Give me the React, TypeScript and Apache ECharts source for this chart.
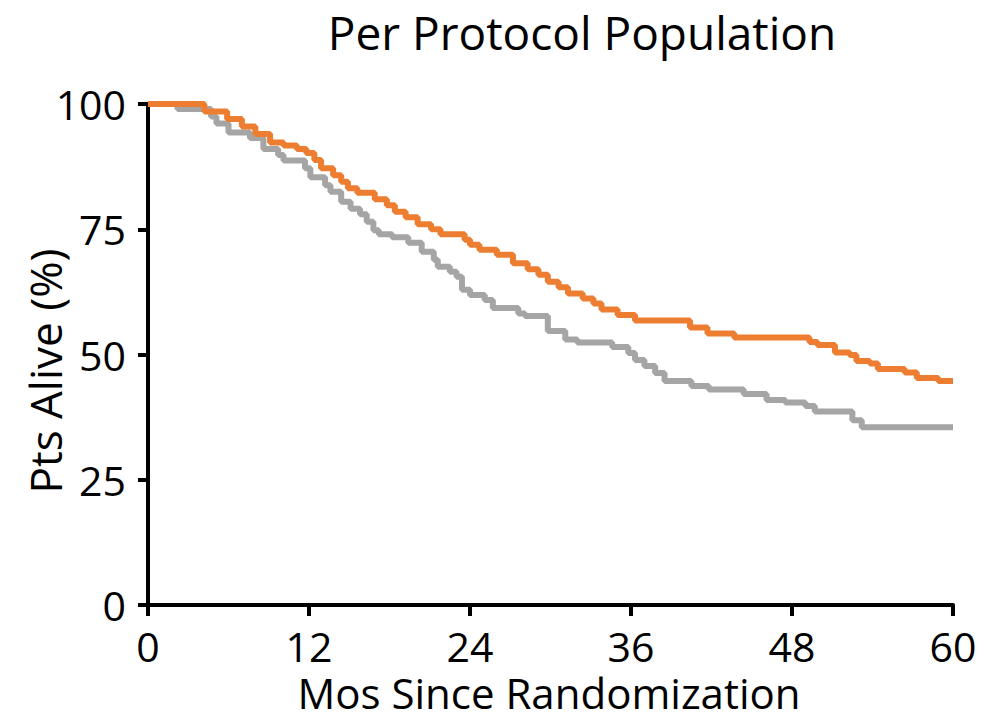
import React, { useEffect, useRef } from "react";
import * as echarts from "echarts";

const titleText = "Per Protocol Population";
const xAxisName = "Mos Since Randomization";
const yAxisName = "Pts Alive (%)";
const xTicks = [0, 12, 24, 36, 48, 60];
const yTicks = [0, 25, 50, 75, 100];

// [month, % alive from this month onward]
const orangeArm: [number, number][] = [
  [0, 100], [4.2, 98.5], [5.9, 97], [7.0, 95.5], [8.0, 94], [9.1, 92.3], [10.1, 91.7],
  [11.1, 91], [11.8, 90.2], [12.4, 88.8], [12.9, 87.2], [13.8, 85.8], [14.4, 84.5],
  [14.9, 83.2], [15.6, 82.3], [16.9, 81], [17.8, 79.8], [18.4, 78.5], [19.2, 77.4],
  [20.1, 76], [21.1, 75], [21.8, 74], [23.6, 72.9], [24.0, 71.9], [24.7, 70.9],
  [26.0, 69.9], [27.2, 68.2], [28.3, 67], [29.1, 65.9], [29.8, 64.5], [30.6, 63.4],
  [31.3, 62.2], [32.4, 61.2], [33.2, 60.2], [33.8, 59], [35.0, 57.9], [36.3, 56.8],
  [40.4, 55.4], [41.7, 54.2], [43.7, 53.4], [49.3, 52.5], [49.9, 51.9], [51.2, 50.4],
  [52.3, 49.9], [52.8, 48.7], [53.8, 48.2], [54.4, 47.1], [56.4, 46.4], [57.3, 45.3],
  [58.9, 44.7], [60, 44.7],
];

const grayArm: [number, number][] = [
  [0, 100], [2.2, 99], [4.7, 97.5], [5.1, 96.1], [6.0, 94.3], [7.6, 93.2], [8.6, 91],
  [9.7, 89.8], [10.1, 88.7], [11.7, 87.2], [12.1, 85.4], [13.2, 83.8], [13.6, 82.5],
  [14.4, 80.5], [15.1, 79.1], [15.8, 78], [16.3, 76.5], [16.8, 74.8], [17.2, 74],
  [18.2, 73.4], [19.4, 72.3], [20.4, 70.5], [21.3, 68.9], [21.6, 67.5], [22.5, 66.5],
  [23.0, 65.5], [23.4, 62.9], [24.0, 61.9], [25.1, 60.9], [25.7, 59.3], [27.6, 58.2],
  [28.1, 57.7], [29.8, 54.7], [31.1, 53], [32.0, 52.4], [34.6, 51.5], [35.8, 50.3],
  [36.3, 48.9], [37.0, 47.7], [37.8, 46.3], [38.5, 44.7], [40.5, 43.7], [41.8, 43.0],
  [44.4, 42.1], [46.1, 40.9], [47.5, 40.4], [49.0, 39.7], [49.7, 38.6], [52.5, 36.9],
  [53.2, 35.5], [60, 35.5],
];

const FONT = "'Open Sans', 'Noto Sans', sans-serif";

export default function App() {
  const ref = useRef<HTMLDivElement>(null);
  useEffect(() => {
    if (!ref.current) return;
    const chart = echarts.init(ref.current, null, { renderer: "svg" });
    chart.setOption({
      animation: false,
      backgroundColor: "#ffffff",
      textStyle: { fontFamily: FONT },
      grid: { left: 148, right: 38, top: 104, bottom: 110, containLabel: false },
      xAxis: {
        type: "value",
        min: 0,
        max: 60,
        interval: 12,
        axisLine: { show: true, lineStyle: { color: "#000", width: 4 } },
        axisTick: { show: true, length: 11, lineStyle: { color: "#000", width: 4 } },
        axisLabel: { fontFamily: FONT, fontSize: 41, lineHeight: 32, color: "#000", margin: 25,
          formatter: (v: number) => (xTicks.includes(v) ? String(v) : "") },
        splitLine: { show: false },
      },
      yAxis: {
        type: "value",
        min: 0,
        max: 100,
        interval: 25,
        axisLine: { show: true, lineStyle: { color: "#000", width: 4 } },
        axisTick: { show: true, length: 10, lineStyle: { color: "#000", width: 4 } },
        axisLabel: { fontFamily: FONT, fontSize: 41, color: "#000", margin: 22,
          formatter: (v: number) => (yTicks.includes(v) ? String(v) : "") },
        splitLine: { show: false },
      },
      graphic: [
        {
          type: "text",
          x: 582,
          y: 32,
          style: {
            text: titleText,
            font: `46px ${FONT}`,
            fill: "#000",
            align: "center",
            verticalAlign: "middle",
          },
        },
        {
          type: "text",
          x: 549,
          y: 692,
          style: {
            text: xAxisName,
            font: `42px ${FONT}`,
            lineHeight: 34,
            fill: "#000",
            align: "center",
            verticalAlign: "middle",
          },
        },
        {
          type: "text",
          x: 45,
          y: 371,
          rotation: Math.PI / 2,
          style: {
            text: yAxisName,
            font: `44px ${FONT}`,
            fill: "#000",
            align: "center",
            verticalAlign: "middle",
          },
        },
      ],
      series: [
        {
          name: "Gray",
          type: "line",
          step: "end",
          data: grayArm,
          showSymbol: false,
          symbol: "none",
          lineStyle: { color: "#A5A5A5", width: 6 },
          z: 2,
        },
        {
          name: "Orange",
          type: "line",
          step: "end",
          data: orangeArm,
          showSymbol: false,
          symbol: "none",
          lineStyle: { color: "#ED7D31", width: 6 },
          z: 3,
        },
      ],
    });
    return () => chart.dispose();
  }, []);
  return <div ref={ref} style={{ width: 991, height: 715, position: "absolute", left: 0, top: 0 }} />;
}
